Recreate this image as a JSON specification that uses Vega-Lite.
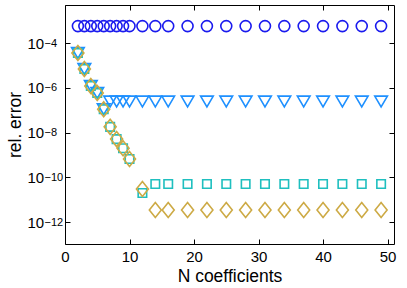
{
  "$schema": "https://vega.github.io/schema/vega-lite/v6.json",
  "autosize": {"type": "none"},
  "padding": {"left": 65, "top": 5, "right": 13, "bottom": 44},
  "width": 329,
  "height": 239,
  "background": "white",
  "config": {
    "view": {"stroke": null},
    "font": "Liberation Sans",
    "axis": {"labelFont": "Liberation Sans", "titleFont": "Liberation Sans", "labelColor": "black", "titleColor": "black", "titleFontWeight": "normal", "domainColor": "black", "tickColor": "black", "grid": false}
  },
  "data": {"values": [
    {"s": "a", "x": 2, "y": 5.7e-4}, {"s": "a", "x": 3, "y": 5.7e-4}, {"s": "a", "x": 4, "y": 5.7e-4}, {"s": "a", "x": 5, "y": 5.7e-4}, {"s": "a", "x": 6, "y": 5.7e-4}, {"s": "a", "x": 7, "y": 5.7e-4}, {"s": "a", "x": 8, "y": 5.7e-4}, {"s": "a", "x": 9, "y": 5.7e-4}, {"s": "a", "x": 10, "y": 5.7e-4}, {"s": "a", "x": 12, "y": 5.7e-4}, {"s": "a", "x": 14, "y": 5.7e-4}, {"s": "a", "x": 16, "y": 5.7e-4}, {"s": "a", "x": 19, "y": 5.7e-4}, {"s": "a", "x": 22, "y": 5.7e-4}, {"s": "a", "x": 25, "y": 5.7e-4}, {"s": "a", "x": 28, "y": 5.7e-4}, {"s": "a", "x": 31, "y": 5.7e-4}, {"s": "a", "x": 34, "y": 5.7e-4}, {"s": "a", "x": 37, "y": 5.7e-4}, {"s": "a", "x": 40, "y": 5.7e-4}, {"s": "a", "x": 43, "y": 5.7e-4}, {"s": "a", "x": 46, "y": 5.7e-4}, {"s": "a", "x": 49, "y": 5.7e-4},
    {"s": "b", "x": 2, "y": 3.6e-5}, {"s": "b", "x": 3, "y": 6.9e-6}, {"s": "b", "x": 4, "y": 1.2e-6}, {"s": "b", "x": 5, "y": 5.9e-7}, {"s": "b", "x": 6, "y": 1.1e-7}, {"s": "b", "x": 7, "y": 2.45e-7}, {"s": "b", "x": 8, "y": 2.45e-7}, {"s": "b", "x": 9, "y": 2.45e-7}, {"s": "b", "x": 10, "y": 2.45e-7}, {"s": "b", "x": 12, "y": 2.45e-7}, {"s": "b", "x": 14, "y": 2.45e-7}, {"s": "b", "x": 16, "y": 2.45e-7}, {"s": "b", "x": 19, "y": 2.45e-7}, {"s": "b", "x": 22, "y": 2.45e-7}, {"s": "b", "x": 25, "y": 2.45e-7}, {"s": "b", "x": 28, "y": 2.45e-7}, {"s": "b", "x": 31, "y": 2.45e-7}, {"s": "b", "x": 34, "y": 2.45e-7}, {"s": "b", "x": 37, "y": 2.45e-7}, {"s": "b", "x": 40, "y": 2.45e-7}, {"s": "b", "x": 43, "y": 2.45e-7}, {"s": "b", "x": 46, "y": 2.45e-7}, {"s": "b", "x": 49, "y": 2.45e-7},
    {"s": "c", "x": 2, "y": 3.6e-5}, {"s": "c", "x": 3, "y": 6.9e-6}, {"s": "c", "x": 4, "y": 1.2e-6}, {"s": "c", "x": 5, "y": 5.9e-7}, {"s": "c", "x": 6, "y": 1.1e-7}, {"s": "c", "x": 7, "y": 1.8e-8}, {"s": "c", "x": 8, "y": 5.1e-9}, {"s": "c", "x": 9, "y": 2.0e-9}, {"s": "c", "x": 10, "y": 6.6e-10}, {"s": "c", "x": 12, "y": 2.0e-11}, {"s": "c", "x": 14, "y": 5.0e-11}, {"s": "c", "x": 16, "y": 5.0e-11}, {"s": "c", "x": 19, "y": 5.0e-11}, {"s": "c", "x": 22, "y": 5.0e-11}, {"s": "c", "x": 25, "y": 5.0e-11}, {"s": "c", "x": 28, "y": 5.0e-11}, {"s": "c", "x": 31, "y": 5.0e-11}, {"s": "c", "x": 34, "y": 5.0e-11}, {"s": "c", "x": 37, "y": 5.0e-11}, {"s": "c", "x": 40, "y": 5.0e-11}, {"s": "c", "x": 43, "y": 5.0e-11}, {"s": "c", "x": 46, "y": 5.0e-11}, {"s": "c", "x": 49, "y": 5.0e-11},
    {"s": "d", "x": 2, "y": 3.6e-5}, {"s": "d", "x": 3, "y": 6.9e-6}, {"s": "d", "x": 4, "y": 1.2e-6}, {"s": "d", "x": 5, "y": 5.9e-7}, {"s": "d", "x": 6, "y": 1.1e-7}, {"s": "d", "x": 7, "y": 1.8e-8}, {"s": "d", "x": 8, "y": 5.1e-9}, {"s": "d", "x": 9, "y": 2.0e-9}, {"s": "d", "x": 10, "y": 6.6e-10}, {"s": "d", "x": 12, "y": 3.0e-11}, {"s": "d", "x": 14, "y": 3.5e-12}, {"s": "d", "x": 16, "y": 3.5e-12}, {"s": "d", "x": 19, "y": 3.5e-12}, {"s": "d", "x": 22, "y": 3.5e-12}, {"s": "d", "x": 25, "y": 3.5e-12}, {"s": "d", "x": 28, "y": 3.5e-12}, {"s": "d", "x": 31, "y": 3.5e-12}, {"s": "d", "x": 34, "y": 3.5e-12}, {"s": "d", "x": 37, "y": 3.5e-12}, {"s": "d", "x": 40, "y": 3.5e-12}, {"s": "d", "x": 43, "y": 3.5e-12}, {"s": "d", "x": 46, "y": 3.5e-12}, {"s": "d", "x": 49, "y": 3.5e-12}
  ]},
  "layer": [
    {
      "mark": {"type": "point", "filled": false, "strokeWidth": 1.6, "opacity": 1, "clip": true},
      "encoding": {
        "x": {"field": "x", "type": "quantitative", "scale": {"domain": [0, 51], "nice": false, "zero": false},
          "axis": {"orient": "bottom", "values": [0, 10, 20, 30, 40, 50], "tickSize": -5, "labelPadding": 10, "labelFontSize": 15, "title": "N coefficients", "titleFontSize": 17.5, "titlePadding": 3, "labelFlush": false}},
        "y": {"field": "y", "type": "quantitative", "scale": {"type": "log", "domain": [1.05e-13, 5e-3], "nice": false},
          "axis": {"orient": "left", "values": [1e-4, 1e-6, 1e-8, 1e-10, 1e-12], "tickSize": -5, "labelPadding": 43, "labelAlign": "left", "labelFontSize": 15, "labelDy": 2, "title": "rel. error", "titleFontSize": 17.5, "titlePadding": 3,
            "labelExpr": "'10'"}},
        "shape": {"field": "s", "type": "nominal", "legend": null, "scale": {"domain": ["a", "b", "c", "d"], "range": ["circle", "M-1,-0.85L1,-0.85L0,0.85Z", "square", "M-0.8,0L0,-1L0.8,0L0,1Z"]}},
        "color": {"field": "s", "type": "nominal", "legend": null, "scale": {"domain": ["a", "b", "c", "d"], "range": ["#1a1aee", "#1e90ff", "#1fbfbf", "#cdaa45"]}},
        "size": {"field": "s", "type": "nominal", "legend": null, "scale": {"type": "ordinal", "domain": ["a", "b", "c", "d"], "range": [121, 160, 72, 225]}}
      }
    },
    {
      "mark": {"type": "point", "opacity": 0},
      "encoding": {
        "x": {"field": "x", "type": "quantitative", "axis": {"orient": "top", "values": [0, 10, 20, 30, 40, 50], "tickSize": -5, "labels": false, "title": null}},
        "y": {"field": "y", "type": "quantitative", "axis": {"orient": "right", "values": [1e-4, 1e-6, 1e-8, 1e-10, 1e-12], "tickSize": -5, "labels": false, "title": null}}
      }
    },
    {
      "mark": {"type": "point", "opacity": 0},
      "encoding": {
        "y": {"field": "y", "type": "quantitative", "axis": {"orient": "left", "values": [1e-4, 1e-6, 1e-8, 1e-10, 1e-12], "domain": false, "ticks": false, "labelPadding": 21, "labelAlign": "left", "labelFontSize": 11, "labelDy": -6, "title": null,
          "labelExpr": "datum.value > 5e-5 ? '−4' : datum.value > 5e-7 ? '−6' : datum.value > 5e-9 ? '−8' : datum.value > 5e-11 ? '−10' : '−12'"}}
      }
    }
  ],
  "resolve": {"axis": {"x": "independent", "y": "independent"}}
}
